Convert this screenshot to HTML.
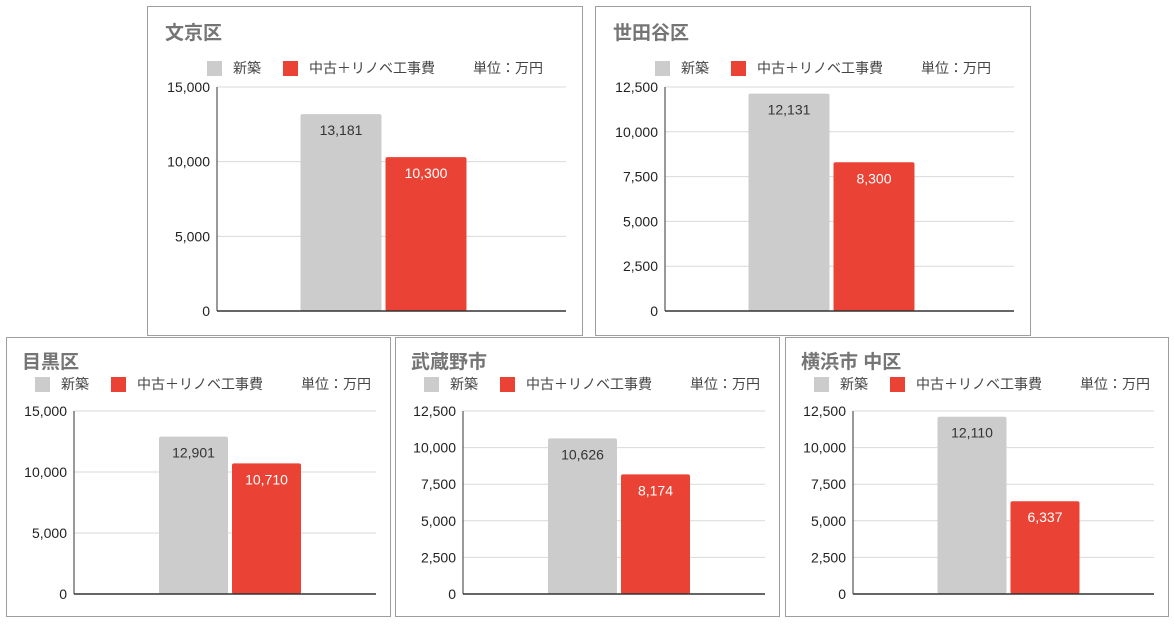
<!DOCTYPE html>
<html><head><meta charset="utf-8"><style>
body{margin:0;background:#fff;width:1174px;height:621px;overflow:hidden}
svg{font-family:"Liberation Sans","Noto Sans CJK JP",sans-serif}
</style></head><body>
<svg id="c" width="1174" height="621"></svg>
<script>
const names=["文京区","世田谷区","目黒区","武蔵野市","横浜市 中区"];
const newBuild=[13181,12131,12901,10626,12110];
const renov=[10300,8300,10710,8174,6337];
const axisMax=[15000,12500,15000,12500,12500];
const axisStep=[5000,2500,5000,2500,2500];
const seriesNames=["新築","中古＋リノベ工事費"];
// layout: frame x,y,w,h, plot left, top, right, bottom, bar width, bar gap center
const L=[
 {x:147,y:6,w:435,h:329,pl:217,pt:87,pr:566,pb:311,bw:81,big:true},
 {x:595,y:6,w:435,h:329,pl:665,pt:87,pr:1014,pb:311,bw:81,big:true},
 {x:6,y:337,w:384,h:279,pl:74,pt:411,pr:376,pb:594,bw:69,big:false},
 {x:395,y:337,w:384,h:279,pl:463,pt:411,pr:765,pb:594,bw:69,big:false},
 {x:785,y:337,w:383,h:279,pl:853,pt:411,pr:1154,pb:594,bw:69,big:false}
];
const svg=document.getElementById('c');
const NS='http://www.w3.org/2000/svg';
function mk(t,a,p){const e=document.createElementNS(NS,t);for(const k in a)e.setAttribute(k,a[k]);(p||svg).appendChild(e);return e;}
function fmt(v){return v.toLocaleString('en-US');}
names.forEach((nm,i)=>{
 const g=L[i];
 const grp=mk('g',{});
 
 
 const fr=mk('rect',{x:g.x+0.5,y:g.y+0.5,width:g.w,height:g.h,fill:'#fff',stroke:'#9e9e9e','stroke-width':1},grp);
 
 
 const tx=g.x+(g.big?18:16), ty=g.y+(g.big?33:31);
 const t=mk('text',{x:tx,y:ty,'font-size':19,'font-weight':'bold',fill:'#757575'},grp);t.textContent=nm;
 
 
 const ly=g.big?g.y+55:g.y+40, lx=g.big?g.x+60:g.x+29;
 const sq1=mk('rect',{x:lx,y:ly,width:15,height:15,fill:'#cccccc'},grp);
 
 
 const l1=mk('text',{x:lx+26,y:ly+12,'font-size':14,fill:'#444'},grp);l1.textContent=seriesNames[0];
 
 
 const sq2=mk('rect',{x:lx+76,y:ly,width:15,height:15,fill:'#ea4335'},grp);
 
 
 const l2=mk('text',{x:lx+102,y:ly+12,'font-size':14,fill:'#444'},grp);l2.textContent=seriesNames[1];
 
 
 const u=mk('text',{x:lx+266,y:ly+12,'font-size':14,fill:'#444'},grp);u.textContent='単位：万円';
 
 
 const yS=v=>g.pb-(v/axisMax[i])*(g.pb-g.pt);
 for(let v=0;v<=axisMax[i];v+=axisStep[i]){
  const y=yS(v);
  if(v>0){const gl=mk('line',{x1:g.pl,x2:g.pr,y1:y,y2:y,stroke:'#d9d9d9','stroke-width':1},grp);
   
   }
  const tl=mk('text',{x:g.pl-7,y:y+5,'text-anchor':'end','font-size':14,fill:'#222'},grp);tl.textContent=fmt(v);
  
  
 }
 const cx=(g.pl+g.pr)/2+(g.big?-8:5);
 const vals=[newBuild[i],renov[i]], cols=['#cccccc','#ea4335'], tc=['#333','#fff'];
 vals.forEach((v,j)=>{
  const bx=j===0?cx-g.bw-2:cx+2;
  const b=mk('rect',{x:bx,y:yS(v),width:g.bw,height:g.pb-yS(v),fill:cols[j],rx:2},grp);
  
  
  const bl=mk('text',{x:bx+g.bw/2,y:yS(v)+21,'text-anchor':'middle','font-size':14,fill:tc[j]},grp);bl.textContent=fmt(v);
  
  
 });
 const ax=mk('line',{x1:g.pl,x2:g.pl,y1:g.pt,y2:g.pb,stroke:'#333','stroke-width':1},grp);
 
 
 const bs=mk('line',{x1:g.pl,x2:g.pr,y1:g.pb,y2:g.pb,stroke:'#333','stroke-width':1.5},grp);
 
 
});
</script>
</body></html>
